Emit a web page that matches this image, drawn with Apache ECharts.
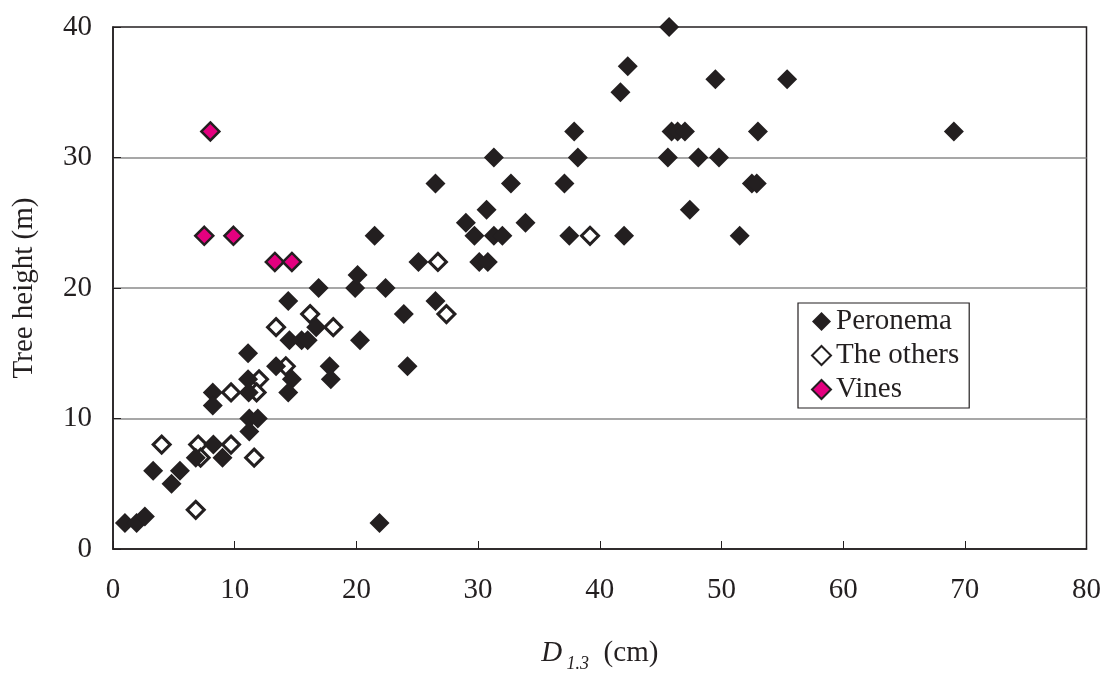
<!DOCTYPE html>
<html>
<head>
<meta charset="utf-8">
<title>Tree height vs D1.3</title>
<script src="https://cdn.jsdelivr.net/npm/echarts@6/dist/echarts.min.js"></script>
<style>
  html, body { margin: 0; padding: 0; background: #fff; }
  #chart { width: 1104px; height: 678px; }
</style>
</head>
<body>
<div id="chart"></div>
<script>
// values: D1.3 (cm) and tree height (m)
var peronemaD = [0.98, 1.94, 2.62, 3.3, 4.81, 5.5, 6.8, 9.0, 8.25, 11.2, 11.9, 11.2, 11.1, 11.15, 11.1, 8.2, 8.2,
    13.4, 14.7, 14.4, 14.5, 15.5, 16.0, 14.4, 16.7, 17.8, 17.9, 16.9, 19.9, 20.1, 22.4, 20.3, 21.5, 23.9, 24.2,
    26.5, 26.5, 25.1, 30.1, 30.8, 29.0, 29.7, 31.3, 32.0, 30.7, 31.3, 32.7, 33.9, 37.1, 37.5, 37.9, 38.2, 41.7,
    42.3, 42.0, 45.7, 45.6, 45.9, 46.4, 47.0, 47.4, 48.1, 49.5, 49.8, 51.5, 52.5, 52.9, 53.0, 55.4, 69.1, 21.9];
var peronemaH = [2, 2, 2.5, 6, 5, 6, 7, 7, 8, 10, 10, 9, 13, 12, 15, 12, 11,
    14, 13, 12, 16, 16, 16, 19, 17, 14, 13, 20, 20, 21, 20, 16, 24, 18, 14,
    19, 28, 22, 22, 22, 25, 24, 24, 24, 26, 30, 28, 25, 28, 24, 32, 30, 35,
    37, 24, 40, 30, 32, 32, 32, 26, 30, 36, 30, 24, 28, 28, 32, 36, 32, 2];

var othersD = [4.0, 6.8, 7.0, 7.2, 9.7, 11.6, 9.7, 12.0, 11.8, 13.4, 14.2, 16.2, 18.1, 26.7, 27.4, 39.2];
var othersH = [8, 3, 8, 7, 8, 7, 12, 13, 12, 17, 14, 18, 17, 22, 18, 24];

var vinesD = [8.0, 7.5, 9.9, 13.3, 14.7];
var vinesH = [32, 24, 24, 22, 22];

var xTicks = [0, 10, 20, 30, 40, 50, 60, 70, 80];
var yTicks = [0, 10, 20, 30, 40];

function pairs(xs, ys) {
    var out = [];
    for (var i = 0; i < xs.length; i++) out.push([xs[i], ys[i]]);
    return out;
}

var ink = '#231f20';
var serif = '"Liberation Serif", "Times New Roman", serif';

var myChart = echarts.init(document.getElementById('chart'));

var option = {
    backgroundColor: '#fff',
    animation: false,
    textStyle: { fontFamily: serif, color: ink },
    grid: {
        left: 113, top: 27, right: 15, bottom: 120,
        show: true, borderColor: ink, borderWidth: 1.5, backgroundColor: '#fff'
    },
    legend: {
        orient: 'vertical',
        left: 798, top: 303,
        padding: [4, 10, 4, 13],
        itemGap: 5,
        itemWidth: 19, itemHeight: 19,
        borderColor: ink, borderWidth: 1.2,
        textStyle: { fontFamily: serif, fontSize: 29, color: ink },
        data: ['Peronema', 'The others', 'Vines']
    },
    xAxis: {
        type: 'value',
        min: xTicks[0], max: xTicks[xTicks.length - 1], interval: 10,
        axisLine: { lineStyle: { color: ink, width: 1.5 } },
        axisTick: { inside: true, length: 8, lineStyle: { color: ink } },
        splitLine: { show: false },
        axisLabel: { margin: 27, fontSize: 29, color: ink, fontFamily: serif },
        name: '{d|D}{s| 1.3}{c|  (cm)}',
        nameLocation: 'middle',
        nameGap: 84,
        nameTextStyle: {
            fontFamily: serif, color: ink,
            rich: {
                d: { fontSize: 29, fontStyle: 'italic', fontFamily: serif, lineHeight: 40, color: ink },
                s: { fontSize: 18, fontStyle: 'italic', fontFamily: serif, verticalAlign: 'bottom', lineHeight: 18, color: ink },
                c: { fontSize: 29, fontFamily: serif, lineHeight: 40, color: ink }
            }
        }
    },
    yAxis: {
        type: 'value',
        min: yTicks[0], max: yTicks[yTicks.length - 1], interval: 10,
        axisLine: { lineStyle: { color: ink, width: 1.5 } },
        axisTick: { inside: true, length: 8, lineStyle: { color: ink } },
        splitLine: { show: true, showMinLine: false, showMaxLine: false, lineStyle: { color: '#8a8a8a', width: 1.5 } },
        axisLabel: { margin: 21, fontSize: 29, color: ink, fontFamily: serif },
        name: 'Tree height (m)',
        nameLocation: 'middle',
        nameGap: 74,
        nameTextStyle: { fontSize: 29, color: ink, fontFamily: serif }
    },
    series: [{
        name: 'The others',
        type: 'scatter',
        symbol: 'diamond',
        symbolSize: 17,
        z: 2,
        itemStyle: { color: '#fff', borderColor: ink, borderWidth: 3, opacity: 1 },
        data: pairs(othersD, othersH)
    }, {
        name: 'Peronema',
        type: 'scatter',
        symbol: 'diamond',
        symbolSize: 20,
        z: 3,
        itemStyle: { color: ink, opacity: 1 },
        data: pairs(peronemaD, peronemaH)
    }, {
        name: 'Vines',
        type: 'scatter',
        symbol: 'diamond',
        symbolSize: 18,
        z: 4,
        itemStyle: { color: '#e4007f', borderColor: ink, borderWidth: 2.5, opacity: 1 },
        data: pairs(vinesD, vinesH)
    }]
};

myChart.setOption(option);
</script>
</body>
</html>
